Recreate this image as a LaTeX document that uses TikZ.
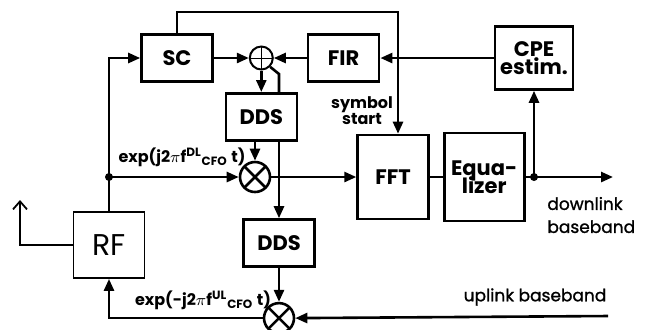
\documentclass[tikz,border=0pt]{standalone}
\usepackage{fontspec}
\setmainfont{Poppins}
\newfontfamily\medfont{Poppins}[FakeBold=1.2]
\usepackage{tikz}
\usetikzlibrary{arrows.meta,positioning,calc}

\begin{document}
\begin{tikzpicture}[
    x=0.5pt, y=-0.5pt,
    >={Triangle[length=6pt,width=5pt]},
    conn/.style={line width=1.3pt},
    blk/.style={rectangle, draw, line width=1.3pt, inner sep=0pt, minimum width=35.5pt, minimum height=23.5pt, font=\fontsize{10.5}{12}\selectfont\bfseries, align=center},
    adder/.style={circle, draw, line width=1pt, minimum size=11.5pt, inner sep=0pt,
      path picture={\draw[line width=0.5pt] (path picture bounding box.north) -- (path picture bounding box.south)
        (path picture bounding box.west) -- (path picture bounding box.east);}},
    mixer/.style={circle, draw, line width=1.3pt, minimum size=15pt, inner sep=0pt,
      path picture={\draw[line width=1.3pt] (path picture bounding box.north west) -- (path picture bounding box.south east)
        (path picture bounding box.north east) -- (path picture bounding box.south west);}},
    lbl/.style={font=\fontsize{8}{10}\selectfont\bfseries, inner sep=0pt},
    sig/.style={font=\fontsize{8.5}{11.5}\selectfont\medfont, inner sep=0pt}
  ]
    \useasboundingbox (0,0) rectangle (656,329);

    % Carrier recovery loop
    \node[blk] (sc) at (177,58) {SC};
    \node[adder, right=17.5pt of sc] (add) {};
    \node[blk, right=16.5pt of add] (fir) {FIR};
    \node[blk, minimum width=39pt, minimum height=31.5pt, align=center] (cpe) at (534,58) {CPE\\[-3pt]estim.};
    \node[blk, below=10.75pt of add] (dds1) {DDS};

    % Downlink path
    \node[mixer] (mix1) at (255,177) {};
    \node[blk, minimum height=42pt, right=42.5pt of mix1] (fft) {FFT};
    \node[blk, minimum width=40pt, minimum height=44pt, right=6.5pt of fft] (eq) {Equa-\\[-3pt]lizer};

    % RF front end
    \node[rectangle, draw, line width=0.9pt, minimum width=35.5pt, minimum height=33pt, font=\fontsize{15}{16}\selectfont] (rf) at (109,245) {RF};

    % Uplink path
    \node[blk] (dds2) at (279,243) {DDS};
    \node[mixer, below=17pt of dds2] (mix2) {};

    % Coordinates
    \coordinate (tp) at (398,12);
    \coordinate (bend) at (279,74);
    \coordinate (j1) at (rf.north|-mix1.west);
    \coordinate (dlj) at (cpe.south|-eq.east);
    \coordinate (dlout) at (613,177);
    \coordinate (ulin) at (608,316);
    \coordinate (ant) at (20,200);

    % Labels
    \node[lbl] (explo) at (182,157) {exp(j2$\pi$f\textsuperscript{DL}\textsubscript{CFO} t)};
    \node[lbl] (exphi) at (203,300) {exp(-j2$\pi$f\textsuperscript{UL}\textsubscript{CFO} t)};
    \node[lbl, align=center] (symst) at (362,111) {symbol\\[-2pt]start};
    \node[sig, align=left, anchor=west] (dlbb) at (547,215) {downlink\\baseband};
    \node[sig] (ulbb) at (535,297) {uplink baseband};

    % Arrows
    \draw[conn, ->] (rf.north) |- (sc.west);
    \draw[conn, ->] (sc.east) -- (add.west);
    \draw[conn, ->] (fir.west) -- (add.east);
    \draw[conn, ->] (cpe.west) -- (fir.east);
    \draw[conn, ->] (sc.north) |- (tp) -- (tp|-fft.north);
    \draw[conn, ->] (add.south) -- (add.south|-dds1.north);
    \draw[conn] (add.-45) -- (bend) -- (bend|-dds1.north);
    \draw[conn, ->] (bend|-dds1.south) -- (dds2.north);
    \draw[conn, ->] (mix1.north|-dds1.south) -- (mix1.north);
    \draw[conn, ->] (j1) -- (mix1.west);
    \fill (j1) circle (2pt);
    \draw[conn, ->] (mix1.east) -- (fft.west);
    \draw[conn] (fft.east) -- (eq.west);
    \draw[conn, ->] (eq.east) -- (dlout);
    \fill (dlj) circle (2pt);
    \draw[conn, ->] (dlj) -- (cpe.south);
    \draw[conn, ->] (dds2.south) -- (mix2.north);
    \draw[conn, ->] (ulin) -- (mix2.east);
    \draw[conn, ->] (mix2.west) -| (rf.south);
    \draw[line width=0.9pt, -{Straight Barb[length=4pt,width=7pt]}] (rf.west) -| (ant);
  \end{tikzpicture}
\end{document}
